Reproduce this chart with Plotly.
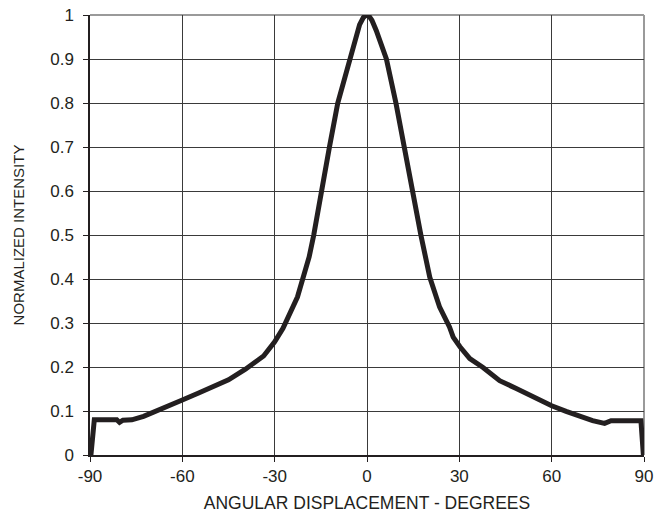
import plotly.graph_objects as go

# Angular displacement (degrees)
angle_deg = [-89.7, -88.6, -81.3, -80.4, -79.3, -76.4, -72.6, -67.8, -63.4, -60.0,
             -54.7, -50.4, -45.0, -39.5, -33.6, -30.0, -27.3, -22.6, -18.8, -17.3,
             -16.2, -14.9, -13.6, -12.2, -9.5, -7.4, -5.6, -3.8, -2.4, -1.2,
             -0.3, 0.6, 1.6, 3.0, 6.3, 9.4, 12.1, 13.3, 14.4, 17.5,
             20.4, 23.6, 26.8, 28.0, 30.2, 33.4, 37.7, 43.1, 48.5, 54.0,
             60.0, 64.7, 70.1, 73.3, 77.2, 79.3, 89.0, 89.8]
# Normalized intensity
intensity = [0.0, 0.08, 0.08, 0.074, 0.079, 0.080, 0.088, 0.101, 0.114, 0.125,
             0.141, 0.153, 0.171, 0.195, 0.225, 0.257, 0.288, 0.359, 0.45, 0.5,
             0.545, 0.6, 0.648, 0.7, 0.8, 0.855, 0.9, 0.952, 0.978, 0.994,
             1.0, 0.998, 0.988, 0.965, 0.9, 0.8, 0.7, 0.647, 0.6, 0.5,
             0.404, 0.336, 0.291, 0.268, 0.246, 0.219, 0.199, 0.169, 0.151, 0.132,
             0.112, 0.099, 0.085, 0.078, 0.072, 0.078, 0.078, 0.0]

x_ticks = [-90, -60, -30, 0, 30, 60, 90]
y_ticks = [0, 0.1, 0.2, 0.3, 0.4, 0.5, 0.6, 0.7, 0.8, 0.9, 1]
y_tick_text = ["0", "0.1", "0.2", "0.3", "0.4", "0.5", "0.6", "0.7", "0.8", "0.9", "1"]

FONT = "Liberation Sans Narrow, Arial Narrow, Liberation Sans, Arial, sans-serif"

fig = go.Figure()
fig.add_trace(go.Scatter(
    x=angle_deg, y=intensity, mode="lines",
    line=dict(color="#231f20", width=5),
    showlegend=False, hoverinfo="x+y",
))

fig.update_layout(
    width=656, height=519,
    margin=dict(l=90, r=12, t=15, b=64),
    paper_bgcolor="white", plot_bgcolor="white",
    font=dict(family=FONT, color="#231f20", size=17),
    xaxis=dict(
        range=[-90, 90], tickvals=x_ticks, ticktext=[str(v) for v in x_ticks],
        showgrid=True, gridcolor="#3a3a3a", gridwidth=1,
        showline=True, linecolor="#231f20", linewidth=1.5,
        ticks="outside", ticklen=5, tickcolor="#231f20",
        zeroline=False, automargin=False,
        tickfont=dict(size=17),
        title=dict(text="ANGULAR DISPLACEMENT - DEGREES", font=dict(size=17.5), standoff=12),
    ),
    yaxis=dict(
        range=[0, 1], tickvals=y_ticks, ticktext=y_tick_text,
        showgrid=True, gridcolor="#3a3a3a", gridwidth=1,
        showline=True, linecolor="#231f20", linewidth=1.5,
        ticks="outside", ticklen=5, tickcolor="#231f20",
        zeroline=False, automargin=False,
        tickfont=dict(size=17),
        ticklabelstandoff=6,
        title=dict(text="NORMALIZED INTENSITY", font=dict(size=15), standoff=22),
    ),
    shapes=[
        dict(type="line", xref="paper", yref="paper", x0=0, x1=1, y0=1, y1=1,
             line=dict(color="#9a9a9a", width=2), layer="below"),
        dict(type="line", xref="paper", yref="paper", x0=1, x1=1, y0=0, y1=1,
             line=dict(color="#9a9a9a", width=2), layer="below"),
    ],
)

fig.write_html("out.html", config={"displayModeBar": False},
               post_script="document.body.style.margin='0';")
